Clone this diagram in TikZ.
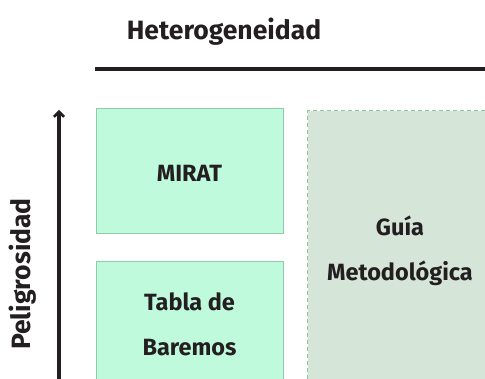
\documentclass[tikz,border=0pt]{standalone}
\usepackage{fontspec}
\setmainfont{Fira Sans}[BoldFont={Fira Sans Bold}]
\usetikzlibrary{arrows.meta}
\definecolor{ink}{HTML}{231F20}
\definecolor{mintfill}{HTML}{C0FADC}
\definecolor{mintedge}{HTML}{8FCCA8}
\definecolor{sagefill}{HTML}{D5E5D8}
\definecolor{sageedge}{HTML}{8FC4A0}
\tikzset{
  mintbox/.style={draw=mintedge, fill=mintfill, line width=1pt, rectangle, anchor=north west, inner sep=0pt},
  sagebox/.style={draw=sageedge, fill=sagefill, line width=1.4pt, dash pattern=on 4pt off 3pt, rectangle, anchor=north west, inner sep=0pt},
  lbl/.style={font=\bfseries\fontsize{23.5}{28}\selectfont, text=ink, inner sep=0pt},
  axislbl/.style={font=\bfseries\fontsize{26.5}{30}\selectfont, text=ink, inner sep=0pt}
}
\begin{document}
\begin{tikzpicture}[x=1pt,y=-1pt]
\useasboundingbox (0,0) rectangle (485,379);
\clip (0,0) rectangle (485,379);
\node[axislbl] (het) at (224,32) {Heterogeneidad};
\coordinate (hl) at (95,69);
\coordinate (hr) at (490,69);
\draw[ink, line width=3.6pt] (hl) -- (hr);
\node[mintbox, minimum width=187pt, minimum height=125pt] (mirat) at (96,108) {};
\node[lbl] (miratt) at (189.5,173) {MIRAT};
\node[mintbox, minimum width=187pt, minimum height=140pt] (tabla) at (96,261) {};
\node[lbl] (tabla1) at (189.5,302) {Tabla de};
\node[lbl] (tabla2) at (189.5,348) {Baremos};
\node[sagebox, minimum width=190pt, minimum height=280pt] (guia) at (307,110) {};
\node[lbl] (guia1) at (400,226) {Guía};
\node[lbl] (guia2) at (400,273) {Metodológica};
\coordinate (ab) at (59,385);
\coordinate (at) at (59,110);
\draw[ink, line width=3.4pt, -{Straight Barb[length=5pt,width=10pt,line width=2.6pt]}] (ab) -- (at);
\node[axislbl, rotate=90] (pel) at (23,274) {Peligrosidad};
\end{tikzpicture}
\end{document}
